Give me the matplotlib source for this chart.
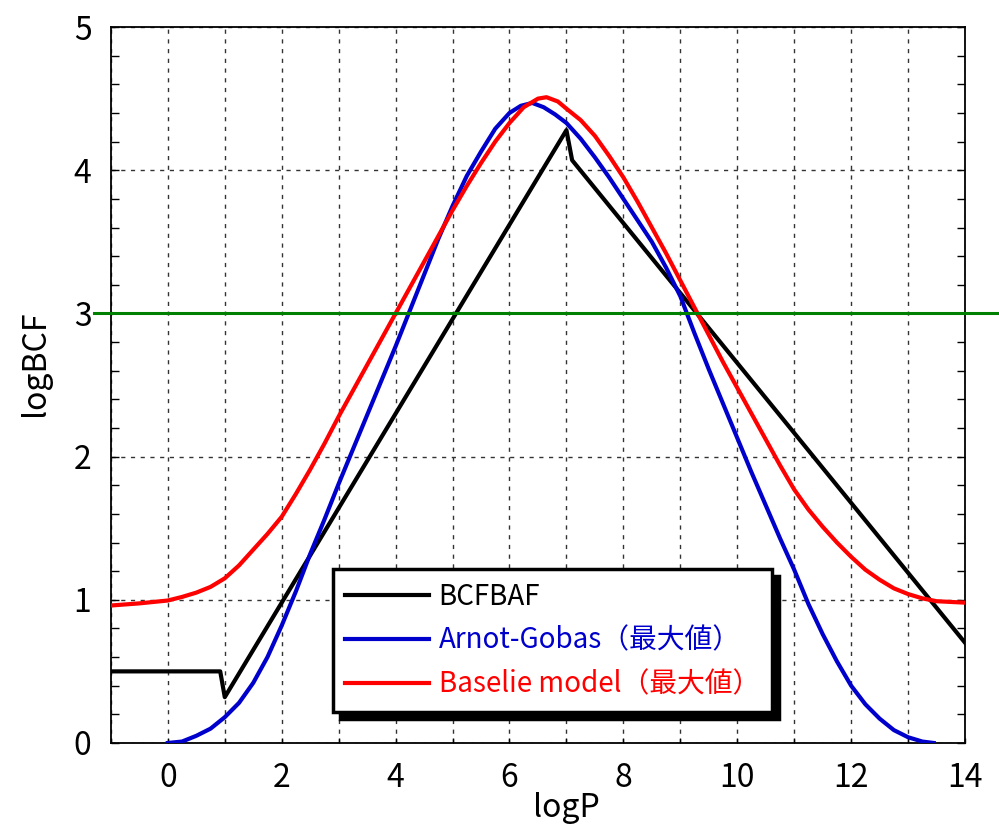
import matplotlib
matplotlib.use('Agg')
import matplotlib.pyplot as plt
from matplotlib.ticker import MultipleLocator

plt.rcParams['font.family'] = ['Noto Sans CJK JP', 'DejaVu Sans']

# BCFBAF (black polyline)
x_bcf = [-1, 0.92, 1.0, 7.0, 7.1, 14]
y_bcf = [0.5, 0.5, 0.32, 4.28, 4.07, 0.70]

# Arnot-Gobas max (blue)
x_ag = [0, 0.25, 0.5, 0.75, 1, 1.25, 1.5, 1.75, 2, 2.25, 2.5, 2.75, 3, 3.25, 3.5,
        3.75, 4, 4.25, 4.5, 4.75, 5, 5.25, 5.5, 5.75, 6, 6.2, 6.4, 6.6, 6.8, 7,
        7.25, 7.5, 7.75, 8, 8.25, 8.5, 8.75, 9, 9.25, 9.5, 9.75, 10, 10.25, 10.5,
        10.75, 11, 11.25, 11.5, 11.75, 12, 12.25, 12.5, 12.75, 13, 13.25, 13.45]
y_ag = [0, 0.01, 0.05, 0.10, 0.18, 0.28, 0.42, 0.60, 0.82, 1.06, 1.32, 1.56, 1.81,
        2.05, 2.29, 2.53, 2.77, 3.02, 3.27, 3.52, 3.75, 3.96, 4.13, 4.29, 4.40, 4.45,
        4.47, 4.44, 4.39, 4.33, 4.22, 4.09, 3.95, 3.80, 3.65, 3.50, 3.32, 3.12, 2.86,
        2.61, 2.37, 2.13, 1.89, 1.66, 1.43, 1.21, 0.97, 0.76, 0.57, 0.40, 0.27, 0.17,
        0.09, 0.04, 0.01, 0.0]

# Baselie model max (red)
x_bm = [-1, -0.5, 0, 0.25, 0.5, 0.75, 1, 1.25, 1.5, 1.75, 2, 2.25, 2.5, 2.75, 3,
        3.25, 3.5, 3.75, 4, 4.25, 4.5, 4.75, 5, 5.25, 5.5, 5.75, 6, 6.25, 6.5, 6.65,
        6.85, 7, 7.25, 7.5, 7.75, 8, 8.25, 8.5, 8.75, 9, 9.25, 9.5, 9.75, 10, 10.25,
        10.5, 10.75, 11, 11.25, 11.5, 11.75, 12, 12.25, 12.5, 12.75, 13, 13.25, 13.5, 14]
y_bm = [0.96, 0.975, 0.995, 1.02, 1.05, 1.09, 1.15, 1.24, 1.35, 1.46, 1.58, 1.74,
        1.91, 2.09, 2.28, 2.46, 2.64, 2.82, 3.0, 3.18, 3.36, 3.54, 3.72, 3.89, 4.05,
        4.20, 4.33, 4.44, 4.50, 4.51, 4.48, 4.43, 4.35, 4.24, 4.10, 3.95, 3.78, 3.60,
        3.42, 3.23, 3.04, 2.85, 2.66, 2.48, 2.30, 2.12, 1.94, 1.77, 1.63, 1.51, 1.40,
        1.30, 1.21, 1.14, 1.08, 1.04, 1.01, 0.99, 0.98]

threshold = 3
labels = ['BCFBAF', 'Arnot-Gobas（最大値）', 'Baselie model（最大値）']
colors = ['black', '#0000CC', '#FF0000']

fig = plt.figure(figsize=(9.99, 8.32), dpi=100)
ax = fig.add_axes([0.111, 0.107, 0.855, 0.8605])

ax.plot(x_bcf, y_bcf, color=colors[0], lw=3, label=labels[0], zorder=3)
ax.plot(x_ag, y_ag, color=colors[1], lw=3, label=labels[1], zorder=3)
ax.plot(x_bm, y_bm, color=colors[2], lw=3, label=labels[2], zorder=3)
# green threshold line runs past the axes
ax.plot([-1.3, 14.7], [threshold, threshold], color='#008000', lw=2.2,
        clip_on=False, zorder=4)

ax.set_xlim(-1, 14)
ax.set_ylim(0, 5)
ax.set_xticks(range(-1, 15))
ax.set_xticklabels([str(v) if v % 2 == 0 else '' for v in range(-1, 15)])
ax.set_yticks(range(0, 6))
ax.yaxis.set_minor_locator(MultipleLocator(0.2))
ax.grid(True, which='major', color='#333333', lw=1, ls=(0, (3, 4)))

ax.tick_params(axis='y', which='both', direction='in', left=True, right=True,
               length=6, width=1, labelsize=23, pad=14)
ax.tick_params(axis='x', which='both', direction='in', bottom=True, top=False,
               length=3.5, width=1, labelsize=23, pad=14)
for sp in ax.spines.values():
    sp.set_linewidth(1.3)

ax.set_xlabel('logP', fontsize=23)
ax.set_ylabel('logBCF', fontsize=23)
ax.xaxis.set_label_coords(0.533, -0.068)
ax.yaxis.set_label_coords(-0.07, 0.53)

leg = ax.legend(loc='lower left', bbox_to_anchor=(0.26, 0.043), borderaxespad=0,
                fancybox=False, edgecolor='black', framealpha=1, fontsize=20,
                borderpad=0.45, handlelength=3.0, handletextpad=0.35,
                labelspacing=0.5,
                shadow={'ox': 5, 'oy': -5, 'color': 'black', 'alpha': 1})
leg.get_frame().set_linewidth(2.5)
leg.set_zorder(10)
for txt, c in zip(leg.get_texts(), colors):
    txt.set_color(c)

fig.savefig('out.png', dpi=100)
